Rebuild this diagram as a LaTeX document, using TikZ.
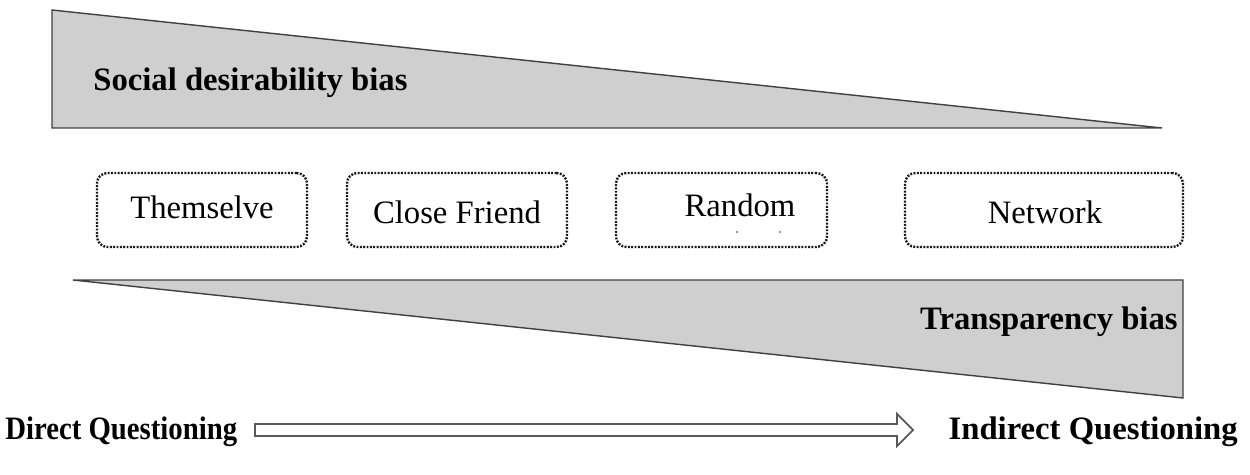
\documentclass[tikz,border=0pt]{standalone}
\usepackage{fontspec}
\setmainfont{Liberation Serif}
\begin{document}
\begin{tikzpicture}[x=0.02cm,y=-0.02cm,
  wedge/.style={fill=black!19,draw=black!75,line width=0.8pt},
  biaslabel/.style={font=\fontsize{18.6}{20}\selectfont\bfseries,inner sep=0pt},
  groupbox/.style={draw=black!90,line width=1.35pt,dash pattern=on 1.1pt off 0.8pt,
    rounded corners=6pt,minimum height=74*0.02cm,inner sep=0pt},
  grouplabel/.style={font=\fontsize{18.6}{20}\selectfont,inner sep=0pt},
  endlabel/.style={font=\fontsize{18.6}{20}\selectfont\bfseries,inner sep=0pt},
  hollowarrow/.style={draw=black!65,line width=1pt,fill=white}]
\useasboundingbox (0,0) rectangle (1250,475);

% decreasing wedge: social desirability bias
\draw[wedge] (52,10) -- (1162,128) -- (52,128) -- cycle;
\node[biaslabel,anchor=west] (sdb) at (93,83) {Social desirability bias};

% increasing wedge: transparency bias
\draw[wedge] (73,280) -- (1183,280) -- (1183,398) -- cycle;
\node[biaslabel,anchor=east] (tb) at (1178,322) {Transparency bias};

% the four reference groups
\node[groupbox,minimum width=210*0.02cm] (self) at (202,210) {};
\node[grouplabel] (selft) at (202,207) {Themselve};
\node[groupbox,minimum width=220*0.02cm] (friend) at (457,210) {};
\node[grouplabel] (friendt) at (457,212) {Close Friend};
\node[groupbox,minimum width=211*0.02cm] (random) at (721.5,210) {};
\node[grouplabel] (randomt) at (740,205) {Random};
\node[groupbox,minimum width=278*0.02cm] (network) at (1044,210) {};
\node[grouplabel] (networkt) at (1045,212) {Network};
\fill[black!55] (737,232) circle (0.6pt) (780,232) circle (0.6pt);

% direction of questioning
\node[endlabel,anchor=west,xscale=0.88] (dq) at (5,432) {Direct Questioning};
\node[endlabel,anchor=east] (iq) at (1238,432) {Indirect Questioning};
\draw[hollowarrow] (255,424) -- (897,424) -- (897,414) -- (913,430) -- (897,446)
  -- (897,436) -- (255,436) -- cycle;
\end{tikzpicture}
\end{document}
